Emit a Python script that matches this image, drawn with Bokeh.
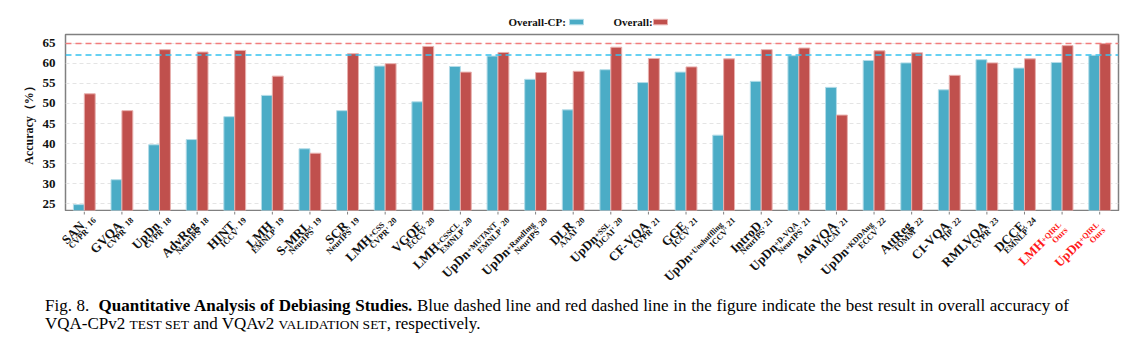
import math
from bokeh.plotting import figure
from bokeh.models import Range1d, FixedTicker, Span, Div, ColumnDataSource
from bokeh.core.properties import value
from bokeh.layouts import column, row
from bokeh.embed import file_html
from bokeh.resources import INLINE

# ---------------- data ----------------
methods = ["SAN", "GVQA", "UpDn", "AdvReg", "HINT", "LMH", "S-MRL", "SCR", "LMH+CSS", "VGQE",
           "LMH+CSSCL", "UpDn+MUTANT", "UpDn+RandImg", "DLR", "UpDn+SSL", "CF-VQA", "GGE",
           "UpDn+Unshuffling", "IntroD", "UpDn+D-VQA", "AdaVQA", "UpDn+KDDAug", "AttReg",
           "CI-VQA", "RMLVQA", "DCCE", "LMH+QIRL", "UpDn+QIRL"]
venues = ["CVPR' 16", "CVPR' 18", "CVPR' 18", "NeurIPS' 18", "ICCV' 19", "EMNLP' 19", "NeurIPS' 19",
          "NeurIPS' 19", "CVPR' 20", "ECCV' 20", "EMNLP' 20", "EMNLP' 20", "NeurIPS' 20", "AAAI' 20",
          "IJCAI' 20", "CVPR' 21", "ICCV' 21", "ICCV' 21", "NeurIPS' 21", "NeurIPS' 21", "IJCAI' 21",
          "ECCV' 22", "TOMM' 22", "TIP' 22", "CVPR' 23", "EMNLP' 24", "Ours", "Ours"]
overall_cp = [24.8, 31.0, 39.7, 41.0, 46.7, 52.0, 38.7, 48.2, 59.3, 50.4,
              59.2, 61.8, 56.0, 48.4, 58.4, 55.2, 57.8, 42.1, 55.5, 61.9,
              54.0, 60.7, 60.1, 53.4, 60.9, 58.8, 60.2, 62.0]
overall = [52.4, 48.2, 63.4, 62.8, 63.2, 56.8, 37.6, 62.4, 59.9, 64.2,
           57.8, 62.7, 57.7, 58.0, 64.0, 61.2, 59.1, 61.1, 63.4, 63.8,
           47.1, 63.1, 62.6, 57.0, 60.1, 61.1, 64.4, 64.9]
best_cp = 62.05
best_overall = 64.9
y_ticks = [25, 30, 35, 40, 45, 50, 55, 60, 65]
series_names = ["Overall-CP:", "Overall:"]

# ---------------- layout / styles ----------------
BLUE = "#4bacc6"
RED = "#c0504d"
BLUE_EDGE = "#b3dce8"
RED_EDGE = "#e8b0ae"
SERIF = "Liberation Serif"
W = 1146
FL, FR = 65, 1118          # frame left/right (page px)
FT, FB = 34, 210           # frame top/bottom (page px)
LEG_H = 32
LAB_TOP = FB + 1
LAB_BOT = 290
LAB_L = 40                 # label strip may start left of the plot frame
Y0, Y1 = 23.33, 67.17
n = len(methods)
xs = list(range(n))
bw = 0.29
s = (FR - FL) / n          # px per category


def strip(height, xr, yr, left=FL):
    f = figure(width=W, height=height, output_backend="svg", toolbar_location=None,
               x_range=xr, y_range=yr,
               min_border_left=left, min_border_right=W - FR, min_border_top=0, min_border_bottom=0)
    f.axis.visible = False
    f.grid.visible = False
    f.outline_line_color = None
    f.background_fill_color = "white"
    f.border_fill_color = "white"
    return f


# ---------- legend strip ----------
leg = strip(LEG_H, Range1d(FL, FR), Range1d(LEG_H, 0))
leg_text_x = [508, 613]
leg_sw_x = [569, 653]
leg.text(x=leg_text_x, y=[21.5, 21.5], text=series_names, text_align="left", text_baseline="middle",
         text_font=value(SERIF), text_font_style="bold", text_font_size="11px", text_color="#111111")
leg.quad(left=leg_sw_x, right=[v + 14 for v in leg_sw_x], top=[18.8, 18.8], bottom=[24.3, 24.3],
         fill_color=[BLUE, RED], line_color=[BLUE_EDGE, RED_EDGE], line_width=1)

# ---------- main plot ----------
p = figure(width=W, height=(FB - LEG_H) + 1, output_backend="svg", toolbar_location=None,
           x_range=Range1d(-0.5, n - 0.5), y_range=Range1d(Y0, Y1),
           min_border_left=FL, min_border_right=W - FR, min_border_top=FT - LEG_H, min_border_bottom=1)
p.background_fill_color = "white"
p.border_fill_color = "white"
p.outline_line_color = "#808080"
p.outline_line_width = 1.5

p.vbar(x=[x - bw / 2 for x in xs], top=overall_cp, bottom=0, width=bw,
       fill_color=BLUE, line_color=BLUE_EDGE, line_width=1)
p.vbar(x=[x + bw / 2 for x in xs], top=overall, bottom=0, width=bw,
       fill_color=RED, line_color=RED_EDGE, line_width=1)

p.add_layout(Span(location=best_overall, dimension="width", line_color="#f27c7c",
                  line_dash="6 4", line_width=1.5))
p.add_layout(Span(location=best_cp, dimension="width", line_color="#36c2ee",
                  line_dash="6 4", line_width=1.5))

p.xgrid.grid_line_color = None
p.ygrid.grid_line_color = "#e4e4e4"
p.ygrid.grid_line_dash = "4 3"
p.ygrid.grid_line_width = 1
p.xaxis.visible = False

p.yaxis.ticker = FixedTicker(ticks=y_ticks)
p.yaxis.axis_line_color = None
p.yaxis.major_tick_line_color = None
p.yaxis.minor_tick_line_color = None
p.yaxis.major_label_text_font = SERIF
p.yaxis.major_label_text_font_style = "bold"
p.yaxis.major_label_text_font_size = "13px"
p.yaxis.major_label_text_color = "#111111"
p.yaxis.major_label_standoff = 4
p.yaxis.axis_label = "Accuracy（%）"
p.yaxis.axis_label_text_font = SERIF
p.yaxis.axis_label_text_font_style = "bold"
p.yaxis.axis_label_text_font_size = "12px"
p.yaxis.axis_label_text_color = "#111111"
p.yaxis.axis_label_standoff = 4

# ---------- rotated category labels strip (same px-per-category scale) ----------
lab = strip(LAB_BOT - LAB_TOP, Range1d(-0.5 - (FL - LAB_L) / s, n - 0.5), Range1d(LAB_BOT, LAB_TOP),
            left=LAB_L)
lab.segment(x0=xs, x1=xs, y0=[LAB_TOP] * n, y1=[FB + 4] * n, line_color="#808080", line_width=1)

# Times-Bold advance widths (per 1000 em) to place the smaller "+suffix" after the name
TW = {'+': 570, '-': 333, 'A': 722, 'C': 722, 'D': 722, 'G': 778, 'I': 389, 'K': 778, 'L': 667,
      'M': 944, 'N': 722, 'Q': 778, 'R': 722, 'S': 556, 'T': 667, 'U': 722, 'V': 722,
      'a': 500, 'd': 556, 'f': 333, 'g': 500, 'h': 556, 'i': 278, 'l': 278, 'm': 833,
      'n': 556, 'p': 556, 's': 389, 'u': 556}


def tw(txt, size):
    return sum(TW.get(ch, 560) for ch in txt) * size / 1000.0


ang = math.pi / 4
c45 = math.cos(ang)
NAME_SZ, SUF_SZ, SMALL_SZ = 13, 8, 8.5
cols = dict(x=[], y=[], text=[], size=[], color=[])


def put(i, dx, dy, txt, size, color):
    cols["x"].append(i + dx / s)
    cols["y"].append(FB + dy)
    cols["text"].append(txt)
    cols["size"].append(f"{size}px")
    cols["color"].append(color)


for i, (nm, ven) in enumerate(zip(methods, venues)):
    ours = ven == "Ours"
    col = "#ff1a1a" if ours else "#111111"
    if "+" in nm:
        main, rest = nm.split("+", 1)
        suf = "+" + rest
    else:
        main, suf = nm, ""
    nx, ny = -2, 13
    if suf:
        put(i, nx, ny, suf, SUF_SZ, col)
        w = tw(suf, SUF_SZ)
        nx, ny = nx - w * c45, ny + w * c45
    put(i, nx, ny, main, NAME_SZ, col)
    if "' " in ven:
        vname, year = ven.split(" ", 1)
    else:
        vname, year = ven, ""
    put(i, 4, 18, vname, SMALL_SZ, col)
    if year:
        put(i, 10, 8, year, SMALL_SZ, col)

lab.text(x="x", y="y", text="text", source=ColumnDataSource(cols), angle=ang,
         text_align="right", text_baseline="alphabetic", text_font=value(SERIF),
         text_font_style="bold", text_font_size="size", text_color="color")

cap = ("<div style=\"font-family:'Liberation Serif',serif;font-size:17px;line-height:18px;"
       "text-align:justify;color:#000;padding:2px 21px 0 40px;width:1085px;\">"
       "Fig. 8.&nbsp; <b>Quantitative Analysis of Debiasing Studies.</b> Blue dashed line and red dashed "
       "line in the figure indicate the best result in overall accuracy of VQA-CPv2 "
       "<span style='font-size:13.5px'>TEST SET</span> and VQAv2 "
       "<span style='font-size:13.5px'>VALIDATION SET</span>, respectively.</div>")
div = Div(text=cap, width=W, height=60)

layout = column(leg, p, row(lab), div, spacing=0)
open("out.html", "w").write(file_html(layout, INLINE))
